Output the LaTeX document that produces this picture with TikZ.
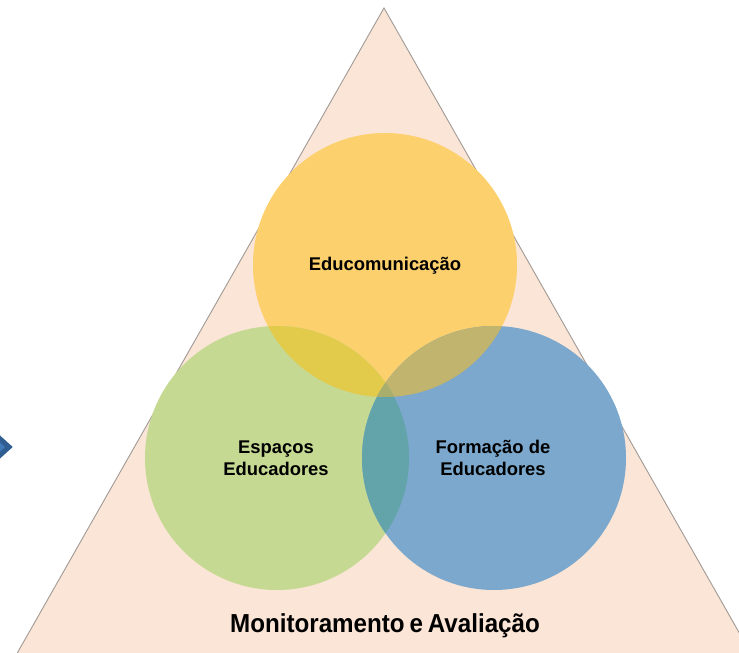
\documentclass[tikz,border=0pt]{standalone}
\usepackage{fontspec}
\setmainfont{Liberation Sans}
\definecolor{peach}{HTML}{FBE5D6}
\definecolor{triline}{HTML}{A09A96}
\definecolor{cyel}{HTML}{FCD06C}
\definecolor{cgrn}{HTML}{C5D993}
\definecolor{cblu}{HTML}{7BA8CC}
\definecolor{cyg}{HTML}{E2CB4A}
\definecolor{cyb}{HTML}{C0B46E}
\definecolor{cgb}{HTML}{63A4AA}
\definecolor{cygb}{HTML}{AAAE6C}
\definecolor{arrdark}{HTML}{2F5D92}
\definecolor{arrlight}{HTML}{4079B8}
\begin{document}
\begin{tikzpicture}[x=1pt,y=-1pt,
  lbl/.style={font=\bfseries\fontsize{18.4}{22}\selectfont, align=center, inner sep=0pt, text=black},
  titlelbl/.style={font=\bfseries\fontsize{26}{30}\selectfont, inner sep=0pt, text=black, xscale=0.93}]
\useasboundingbox (0,0) rectangle (739,653);
\coordinate (cy) at (385,265);
\coordinate (cg) at (277,458);
\coordinate (cb) at (494,458);
\begin{scope}
\clip (0,0) rectangle (739,653);
% triangle
\draw[fill=peach, draw=triline, line width=0.9pt] (384,8) -- (753,657) -- (15,657) -- cycle;
% arrow on the left
\draw[fill=arrlight, draw=arrdark, line width=5pt, line join=miter] (-12,428) -- (9,447) -- (-12,466) -- cycle;
% circles
\fill[cyel] (cy) circle (132);
\fill[cgrn] (cg) circle (132);
\fill[cblu] (cb) circle (132);
% overlaps
\begin{scope}\clip (cy) circle (132); \fill[cyg] (cg) circle (132); \end{scope}
\begin{scope}\clip (cy) circle (132); \fill[cyb] (cb) circle (132); \end{scope}
\begin{scope}\clip (cg) circle (132); \fill[cgb] (cb) circle (132); \end{scope}
\begin{scope}\clip (cy) circle (132); \clip (cg) circle (132); \fill[cygb] (cb) circle (132); \end{scope}
\end{scope}
% labels
\node[lbl] (edu) at (385,266) {Educomunicação};
\node[lbl] (esp) at (276,458) {Espaços\\Educadores};
\node[lbl] (form) at (493,458) {Formação de\\Educadores};
\node[titlelbl] (mon) at (385,626) {Monitoramento\hspace{0.2em}e\hspace{0.2em}Avaliação};
\end{tikzpicture}
\end{document}
